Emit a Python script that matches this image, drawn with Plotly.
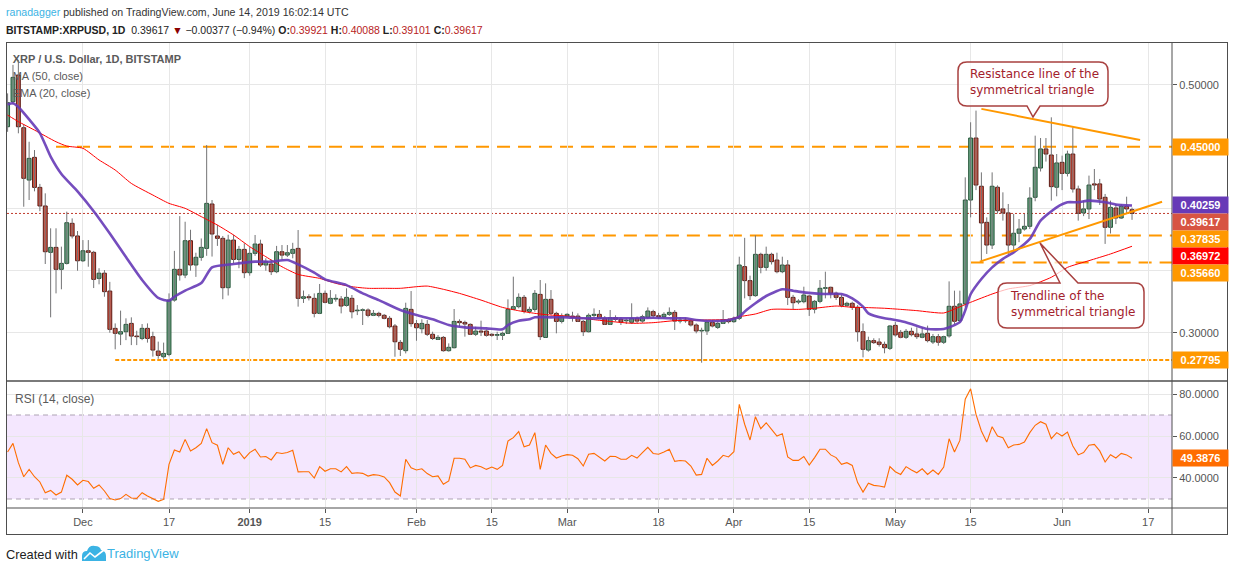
import plotly.graph_objects as go
import pandas as pd

W, H = 1234, 572
SANS = "Liberation Sans, Arial, sans-serif"
CALL = "DejaVu Sans, Verdana, sans-serif"

# ---------------- data ----------------
dates = pd.date_range("2018-11-17", "2019-06-14", freq="D")

opens = [.4661,.4863,.5078,.4653,.4231,.4414,.4172,.4022,.3648,.3688,
         .3511,.3559,.3882,.3780,.3580,.3661,.3648,.3438,.3480,.3336,
         .3035,.2989,.3008,.3075,.2973,.2954,.3035,.2968,.2852,.2806,
         .2825,.3263,.3511,.3465,.3742,.3546,.3608,.3680,.4038,.3780,
         .3761,.3363,.3747,.3591,.3672,.3484,.3640,.3715,.3546,.3554,
         .3492,.3653,.3626,.3640,.3680,.3277,.3290,.3277,.3156,.3317,
         .3237,.3271,.3272,.3220,.3277,.3177,.3180,.3183,.3140,.3156,
         .3140,.3116,.3054,.2922,.2855,.3188,.3073,.3032,.3067,.2987,
         .2946,.2962,.2855,.2879,.3091,.3083,.3067,.2987,.3013,.3013,
         .2987,.2979,.2979,.2995,.3188,.3210,.3285,.3172,.3188,.3309,
         .2962,.3269,.3156,.3091,.3134,.3134,.3134,.3091,.3008,.3140,
         .3148,.3116,.3067,.3121,.3108,.3096,.3084,.3116,.3094,.3124,
         .3170,.3137,.3129,.3148,.3164,.3094,.3102,.3094,.3062,.3014,
         .3014,.3084,.3043,.3075,.3102,.3089,.3116,.3533,.3420,.3299,
         .3632,.3527,.3632,.3586,.3492,.3546,.3285,.3247,.3250,.3296,
         .3189,.3253,.3358,.3366,.3318,.3285,.3221,.3237,.3205,.3008,
         .2860,.2936,.2925,.2906,.2874,.3059,.3003,.2963,.3011,.2990,
         .2963,.2995,.2925,.2968,.2923,.2974,.3213,.3097,.3232,.4070,
         .4570,.4181,.3890,.3707,.4173,.3998,.3966,.3707,.3802,.3836,
         .3858,.4092,.4328,.4482,.4433,.4173,.4374,.4285,.4441,.4159,
         .3966,.3998,.4200,.4200,.4092,.3850,.4006,.3925,.4019,.39921]

highs = [.4930,.5160,.5200,.4680,.4540,.4473,.4200,.4124,.3842,.3842,
         .3694,.3976,.3922,.3820,.3747,.3747,.3660,.3520,.3505,.3410,
         .3075,.3178,.3116,.3124,.3016,.3070,.3075,.3008,.2928,.2920,
         .3317,.3660,.3940,.3895,.3830,.3645,.3760,.4513,.4070,.3870,
         .3780,.3790,.3790,.3700,.3720,.3690,.3788,.3750,.3600,.3590,
         .3700,.3707,.3707,.3725,.3828,.3340,.3310,.3317,.3393,.3340,
         .3344,.3310,.3296,.3358,.3304,.3223,.3196,.3196,.3183,.3169,
         .3151,.3134,.3070,.2941,.3242,.3336,.3102,.3108,.3102,.3008,
         .2981,.2973,.2914,.3191,.3108,.3097,.3075,.3048,.3097,.3027,
         .2995,.3008,.3008,.3269,.3452,.3317,.3304,.3210,.3344,.3425,
         .3398,.3344,.3169,.3156,.3156,.3169,.3156,.3102,.3156,.3196,
         .3183,.3134,.3183,.3140,.3125,.3115,.3237,.3130,.3145,.3204,
         .3185,.3160,.3165,.3204,.3183,.3125,.3120,.3110,.3075,.3040,
         .3102,.3102,.3090,.3183,.3115,.3130,.3613,.3765,.3460,.3785,
         .3645,.3694,.3645,.3645,.3613,.3586,.3305,.3270,.3371,.3305,
         .3264,.3425,.3492,.3371,.3331,.3305,.3250,.3250,.3223,.3075,
         .2968,.2955,.2955,.2928,.3062,.3086,.3022,.3030,.3040,.3043,
         .3043,.3057,.2990,.2990,.2976,.3414,.3339,.3339,.4253,.4697,
         .4791,.4293,.3930,.4293,.4188,.4132,.4038,.3958,.3917,.3958,
         .4173,.4589,.4570,.4570,.4737,.4441,.4428,.4468,.4656,.4186,
         .4065,.4267,.4320,.4240,.4119,.4065,.4038,.4038,.4097,.40088]

lows = [.4620,.4840,.4608,.4016,.4070,.4140,.3980,.3554,.3124,.3317,
        .3350,.3550,.3760,.3500,.3570,.3532,.3360,.3390,.3290,.3000,
        .2866,.2900,.2940,.2900,.2900,.2940,.2920,.2807,.2790,.2790,
        .2810,.3250,.3420,.3440,.3500,.3450,.3580,.3620,.3614,.3700,
        .3270,.3300,.3560,.3520,.3440,.3460,.3620,.3530,.3500,.3465,
        .3480,.3590,.3610,.3600,.3210,.3240,.3260,.3124,.3150,.3237,
        .3230,.3250,.3156,.3210,.3116,.3142,.3062,.3124,.3134,.3124,
        .3108,.3035,.2806,.2812,.2833,.3048,.2935,.2995,.2973,.2941,
        .2941,.2847,.2847,.2874,.3048,.2968,.2981,.2973,.2973,.2968,
        .2968,.2941,.2941,.2990,.3183,.3196,.3156,.3156,.3169,.2941,
        .2962,.3142,.2995,.3075,.3124,.3089,.3086,.2973,.3002,.3124,
        .3108,.3062,.3062,.3090,.3062,.3070,.3070,.3075,.3080,.3110,
        .3120,.3110,.3115,.3135,.3022,.3075,.3080,.3050,.2995,.2758,
        .2982,.3043,.3030,.3070,.3075,.3080,.3102,.3277,.3264,.3290,
        .3479,.3500,.3550,.3479,.3480,.3223,.3189,.3230,.3237,.3135,
        .3156,.3237,.3277,.3277,.3264,.3205,.3210,.3183,.2928,.2801,
        .2847,.2909,.2888,.2834,.2860,.2968,.2955,.2950,.2970,.2950,
        .2955,.2922,.2909,.2895,.2909,.2960,.3070,.3084,.3205,.3930,
        .4150,.3581,.3635,.3675,.3960,.3904,.3635,.3648,.3730,.3823,
        .3836,.4060,.4300,.4380,.4065,.4100,.4150,.4260,.4130,.3904,
        .3940,.3917,.4150,.4030,.3716,.3800,.3876,.3917,.3960,.39101]

closes = [.4855,.5059,.4661,.4245,.4406,.4172,.4022,.3653,.3688,.3511,
          .3559,.3887,.3780,.3580,.3661,.3648,.3430,.3480,.3331,.3027,
          .2995,.3008,.3067,.2973,.2968,.3035,.2954,.2860,.2817,.2833,
          .3263,.3511,.3465,.3742,.3546,.3608,.3688,.4043,.3796,.3761,
          .3363,.3747,.3591,.3672,.3484,.3640,.3715,.3546,.3573,.3492,
          .3653,.3626,.3645,.3672,.3277,.3290,.3282,.3156,.3317,.3245,
          .3277,.3277,.3215,.3285,.3169,.3180,.3183,.3140,.3156,.3140,
          .3116,.3048,.2927,.2866,.3196,.3073,.3040,.3075,.2987,.2954,
          .2962,.2855,.2882,.3091,.3081,.3070,.2987,.3013,.3005,.2979,
          .2979,.2985,.2995,.3188,.3210,.3285,.3172,.3188,.3317,.2968,
          .3269,.3156,.3091,.3134,.3148,.3124,.3091,.3008,.3140,.3148,
          .3116,.3067,.3121,.3108,.3086,.3099,.3116,.3094,.3129,.3175,
          .3137,.3129,.3148,.3164,.3094,.3102,.3096,.3062,.3014,.3016,
          .3084,.3054,.3075,.3102,.3089,.3116,.3546,.3420,.3299,.3632,
          .3527,.3632,.3573,.3492,.3546,.3285,.3242,.3255,.3304,.3189,
          .3253,.3358,.3360,.3318,.3285,.3221,.3237,.3205,.3008,.2866,
          .2936,.2920,.2906,.2879,.3054,.2982,.2963,.3011,.2984,.2968,
          .2990,.2936,.2968,.2923,.2968,.3213,.3092,.3232,.4070,.4570,
          .4191,.3885,.3707,.4181,.3984,.3966,.3707,.3802,.3836,.3858,
          .4086,.4334,.4482,.4441,.4178,.4369,.4285,.4441,.4159,.3963,
          .3998,.4191,.4191,.4078,.3850,.4011,.3925,.4019,.3998,.39617]

rsi14 = [52.4,56.5,47.3,40.6,44.1,40.6,38.1,33.0,34.1,31.9,
         33.3,41.3,39.4,36.7,38.9,38.3,35.1,36.7,33.8,30.2,
         29.5,30.2,32.2,30.5,30.3,33.0,31.4,30.2,28.9,29.8,
         46.5,53.3,52.4,58.4,52.9,54.4,56.5,63.5,56.8,55.6,
         46.5,54.4,51.3,52.5,49.2,52.1,53.7,50.0,50.2,48.6,
         52.1,51.7,52.1,53.2,42.9,43.0,43.0,40.0,45.4,43.2,
         44.4,44.4,42.9,45.4,42.2,42.5,42.2,40.9,41.6,41.3,
         40.5,37.8,33.3,31.4,48.9,44.9,43.8,44.4,42.1,40.6,
         41.0,37.0,38.6,49.4,49.4,48.9,44.8,46.0,45.4,44.1,
         45.2,44.1,46.0,57.6,59.2,62.1,54.9,55.7,61.6,44.1,
         55.7,51.7,49.5,50.5,51.1,50.8,49.2,45.7,51.3,51.7,
         50.0,48.1,50.3,50.2,48.9,48.9,50.8,49.5,52.1,54.6,
         51.7,51.3,52.4,53.7,47.9,48.3,48.1,45.7,41.4,41.7,
         49.4,46.0,48.1,50.8,50.0,52.5,75.1,65.6,58.1,69.2,
         63.5,66.3,63.2,60.0,61.1,50.0,48.4,48.4,50.2,46.2,
         49.7,53.7,53.7,51.0,49.7,46.5,47.3,46.0,37.8,33.3,
         37.5,36.5,36.2,35.7,45.4,43.0,41.7,45.4,43.8,42.5,
         44.4,41.7,43.8,41.7,45.2,58.7,52.4,57.9,77.5,82.5,
         70.3,62.4,57.1,64.4,60.0,59.2,54.4,55.7,56.0,57.1,
         61.6,65.1,66.8,65.6,58.7,61.6,60.0,61.9,55.2,51.0,
         52.1,55.6,56.0,52.9,47.6,51.1,49.5,51.7,51.0,49.3876]

# EMA(20) and MA(50) at these bar numbers (1 = first bar)
ema20_bar = [1,2,3,5,7,9,11,14,17,20,23,26,29,31,32,34,37,39,43,47,
             50,53,55,58,60,64,67,70,74,77,80,83,86,90,93,94,96,98,99,102,
             105,108,111,117,121,124,127,129,132,135,137,138,140,142,145,147,148,151,153,156,
             158,160,161,164,165,167,169,172,175,178,179,180,182,184,186,188,191,193,196,198,
             200,202,205,207,210]
ema20_val = [.484,.485,.482,.472,.461,.442,.428,.414,.398,.380,.361,.3425,.328,.3258,.329,.334,.340,.3527,.3554,.3573,
             .3573,.3586,.3551,.3484,.3430,.3384,.3317,.3263,.3183,.3142,.3108,.3062,.3043,.3035,.3027,.3062,.3097,.3108,.3124,.3124,
             .3124,.3116,.3116,.3116,.3121,.3116,.3116,.3102,.3094,.3102,.3129,.3170,.3237,.3296,.3350,.3339,.3331,.3317,.3312,.3312,
             .3277,.3210,.3156,.3116,.3111,.3094,.3070,.3030,.3030,.3085,.318,.331,.3433,.3527,.3595,.3648,.3756,.3904,.4011,.4052,
             .4052,.4065,.4052,.4033,.40259]
ma50_bar = [1,3,6,10,12,15,18,21,24,28,31,34,37,40,43,46,49,52,55,59,
            62,65,68,71,74,77,79,82,85,89,93,96,99,102,105,108,111,117,121,125,
            130,135,137,140,143,148,151,155,158,161,164,167,170,175,177,180,184,187,191,195,
            198,202,206,210]
ma50_val = [.4755,.4702,.4634,.4540,.4505,.4487,.4393,.4312,.4204,.4110,.4043,.4003,.3936,.3868,.3788,.3694,.3613,.3532,.3470,.3438,
            .3398,.3371,.3358,.3358,.3358,.3371,.3376,.3350,.3317,.3263,.3204,.3177,.3156,.3142,.3134,.3116,.3100,.3076,.3081,.3097,
            .3102,.3108,.3129,.3151,.3188,.3188,.3197,.3215,.3205,.3202,.3197,.3188,.3178,.3159,.3191,.3245,.3312,.3353,.3380,.3447,
            .3527,.3581,.3635,.36972]

# horizontal levels drawn by the author: (price, start date, style)
level_price = [0.45, 0.37835, 0.3566, 0.27795]
level_start = ["2018-11-26", "2019-01-12", "2019-05-15", "2018-12-07"]
level_dotted = [False, False, False, True]

resistance_line = [("2019-05-17", 0.4805), ("2019-06-15 12:00", 0.4554)]
trend_line = [("2019-05-16 17:00", 0.3573), ("2019-06-19 14:00", 0.4056)]

tick_dates = ["2018-12-01","2018-12-17","2019-01-01","2019-01-15","2019-02-01","2019-02-15",
              "2019-03-01","2019-03-18","2019-04-01","2019-04-15","2019-05-01","2019-05-15",
              "2019-06-01","2019-06-17"]
tick_text = ["Dec","17","<b>2019</b>","15","Feb","15","Mar","18","Apr","15","May","15","Jun","17"]

# ---------------- geometry ----------------
PLOT_L, PLOT_R = 7, 1172
MAIN_T, MAIN_B, RSI_B = 42, 381, 508
PX_PER_DAY = 5.38
FIRST_BAR_PX = 7.6
P_MIN, P_MAX = 0.26105, 0.53444
R_MIN, R_MAX = 25.71, 86.19

x_start = (dates[0] - pd.Timedelta(days=(FIRST_BAR_PX - PLOT_L) / PX_PER_DAY)).round("s")
x_end = (dates[0] + pd.Timedelta(days=(PLOT_R - FIRST_BAR_PX) / PX_PER_DAY)).round("s")

def fx(x):
    return x / W

def fy(y):
    return 1 - y / H

def price_px(p):
    return MAIN_T + (P_MAX - p) / (P_MAX - P_MIN) * (MAIN_B - MAIN_T)

def px_price(y):
    return P_MAX - (y - MAIN_T) / (MAIN_B - MAIN_T) * (P_MAX - P_MIN)

def rsi_px(r):
    return MAIN_B + (R_MAX - r) / (R_MAX - R_MIN) * (RSI_B - MAIN_B)

GREEN, GREEN_B = "#6BA583", "#225437"
RED, RED_B = "#D75442", "#5B1A13"
ORANGE = "#FF9800"
PURPLE = "#673AB7"
GRID = "#E7E7E7"
FRAME = "#4E4E4E"
AXT = "#555555"

fig = go.Figure()

# indicator titles (drawn first so candles sit on top, like the original)
title_x = (x_start + pd.Timedelta(days=(12.7 - PLOT_L) / PX_PER_DAY)).round("s")
fig.add_trace(go.Scatter(
    x=[title_x] * 3,
    y=[px_price(60), px_price(77.5), px_price(94.5)],
    mode="text", textposition="middle right",
    text=["<b>XRP / U.S. Dollar, 1D, BITSTAMP</b>", "MA (50, close)", "EMA (20, close)"],
    textfont=dict(family=SANS, size=11, color="#5A5A5A"),
    hoverinfo="skip", cliponaxis=False, xaxis="x", yaxis="y"))

# wicks
wx, wy = [], []
for d, lo, hi in zip(dates, lows, highs):
    wx += [d, d, None]
    wy += [lo, hi, None]
fig.add_trace(go.Scatter(x=wx, y=wy, mode="lines", line=dict(color="#737375", width=1),
                         hoverinfo="skip", xaxis="x", yaxis="y"))

# bodies
BODY_W = 0.72 * 86400000
for up, fill, edge in [(True, GREEN, GREEN_B), (False, RED, RED_B)]:
    idx = [i for i in range(len(dates)) if (closes[i] >= opens[i]) == up]
    fig.add_trace(go.Bar(
        x=[dates[i] for i in idx],
        y=[max(abs(closes[i] - opens[i]), 0.0005) for i in idx],
        base=[min(closes[i], opens[i]) for i in idx],
        width=BODY_W, marker=dict(color=fill, line=dict(color=edge, width=1)),
        hoverinfo="skip", xaxis="x", yaxis="y"))

# moving averages
fig.add_trace(go.Scatter(x=[dates[b - 1] for b in ma50_bar], y=ma50_val, mode="lines",
                         line=dict(color="#FF0000", width=1, shape="spline", smoothing=0.6),
                         hoverinfo="skip", xaxis="x", yaxis="y"))
fig.add_trace(go.Scatter(x=[dates[b - 1] for b in ema20_bar], y=ema20_val, mode="lines",
                         line=dict(color=PURPLE, width=2.6, shape="spline", smoothing=0.6),
                         opacity=0.9, hoverinfo="skip", xaxis="x", yaxis="y"))

# RSI
fig.add_trace(go.Scatter(x=dates, y=rsi14, mode="lines", line=dict(color="#FF6D00", width=1.1),
                         hoverinfo="skip", xaxis="x", yaxis="y2"))

shapes = []
# RSI band
shapes.append(dict(type="rect", xref="x domain", yref="y2", x0=0, x1=1, y0=30, y1=70,
                   fillcolor="#F4E7FE", line=dict(width=0), layer="below"))
for lv in (30, 70):
    shapes.append(dict(type="line", xref="x domain", yref="y2", x0=0, x1=1, y0=lv, y1=lv,
                       line=dict(color="#ADA3B3", width=1, dash="5px,4px"), layer="below"))

# author levels
for p, s, dot in zip(level_price, level_start, level_dotted):
    shapes.append(dict(type="line", xref="x", yref="y", x0=s, x1=x_end, y0=p, y1=p,
                       line=dict(color=ORANGE, width=2, dash="4px,2px" if dot else "13px,8px"),
                       layer="below"))
# last price line
shapes.append(dict(type="line", xref="x domain", yref="y", x0=0, x1=1, y0=closes[-1], y1=closes[-1],
                   line=dict(color="#C0392B", width=1, dash="2px,2px"), layer="below"))
# triangle lines
for ln in (resistance_line, trend_line):
    shapes.append(dict(type="line", xref="x", yref="y", x0=ln[0][0], y0=ln[0][1],
                       x1=ln[1][0], y1=ln[1][1], line=dict(color=ORANGE, width=2), layer="above"))

def P(x, y):
    return f"{fx(x):.5f},{fy(y):.5f}"

def callout(x0, y0, x1, y1, r, bx0, bx1, tip, top):
    if top:
        d = (f"M{P(x0 + r, y0)} L{P(bx0, y0)} L{P(*tip)} L{P(bx1, y0)} L{P(x1 - r, y0)} "
             f"Q{P(x1, y0)} {P(x1, y0 + r)} L{P(x1, y1 - r)} Q{P(x1, y1)} {P(x1 - r, y1)} "
             f"L{P(x0 + r, y1)} Q{P(x0, y1)} {P(x0, y1 - r)} L{P(x0, y0 + r)} Q{P(x0, y0)} {P(x0 + r, y0)} Z")
    else:
        d = (f"M{P(x0 + r, y0)} L{P(x1 - r, y0)} Q{P(x1, y0)} {P(x1, y0 + r)} L{P(x1, y1 - r)} "
             f"Q{P(x1, y1)} {P(x1 - r, y1)} L{P(bx1, y1)} L{P(*tip)} L{P(bx0, y1)} L{P(x0 + r, y1)} "
             f"Q{P(x0, y1)} {P(x0, y1 - r)} L{P(x0, y0 + r)} Q{P(x0, y0)} {P(x0 + r, y0)} Z")
    return dict(type="path", xref="paper", yref="paper", path=d, fillcolor="rgba(255,255,255,0.72)",
                line=dict(color="#A8403F", width=1.5), layer="above")

shapes.append(callout(958, 62, 1108, 106, 9, 1027, 1040, (1033, 117), top=False))
shapes.append(callout(998, 283, 1144, 328, 9, 1060, 1078, (1040, 243), top=True))

# frame
def pline(x0, y0, x1, y1, w=1):
    return dict(type="line", xref="paper", yref="paper", x0=fx(x0), y0=fy(y0), x1=fx(x1), y1=fy(y1),
                line=dict(color=FRAME, width=w), layer="above")

shapes += [pline(6, 42.5, 1228, 42.5), pline(6.5, 42, 6.5, 535), pline(1227.5, 42, 1227.5, 535),
           pline(6, 534.5, 1228, 534.5), pline(6, 381, 1228, 381, 1.5), pline(6, 508, 1228, 508, 1.2),
           pline(1172, 42, 1172, 535)]

# TradingView logo (bottom)
logo = (f"M{P(82, 561)} L{P(82, 556)} Q{P(82, 551)} {P(87, 551)} Q{P(89, 545)} {P(95, 546)} "
        f"Q{P(100, 546)} {P(101, 550)} Q{P(106, 551)} {P(106, 556)} L{P(106, 561)} Z")
shapes.append(dict(type="path", xref="paper", yref="paper", path=logo, fillcolor="#3BB3E4",
                   line=dict(width=0), layer="above"))
shapes.append(dict(type="path", xref="paper", yref="paper",
                   path=f"M{P(84, 559)} L{P(90, 553)} L{P(95, 557)} L{P(104, 550)}",
                   line=dict(color="white", width=1.6), layer="above"))

ann = []
ann.append(dict(x=fx(4), y=fy(12), xref="paper", yref="paper", xanchor="left", yanchor="middle",
                showarrow=False, font=dict(family=SANS, size=10.6, color="#333333"),
                text="<span style='color:#3BB3E4'>ranadagger</span> published on TradingView.com, June 14, 2019 16:02:14 UTC"))
VALC = "#B71C1C"
ann.append(dict(x=fx(4), y=fy(30), xref="paper", yref="paper", xanchor="left", yanchor="middle",
                showarrow=False, font=dict(family=SANS, size=10.5, color="#222222"),
                text=("<b>BITSTAMP:XRPUSD, 1D</b>  0.39617 <span style='color:#8B0000'>▼</span> −0.00377 (−0.94%) "
                      f"<b>O:</b><span style='color:{VALC}'>0.39921</span> "
                      f"<b>H:</b><span style='color:{VALC}'>0.40088</span> "
                      f"<b>L:</b><span style='color:{VALC}'>0.39101</span> "
                      f"<b>C:</b><span style='color:{VALC}'>0.39617</span>")))
ann.append(dict(x=fx(13), y=fy(398.5), xref="paper", yref="paper", xanchor="left", yanchor="middle",
                showarrow=False, font=dict(family=SANS, size=12, color="#5A5A5A"),
                text="RSI (14, close)"))

# callout texts
CT = "#A3212C"
for (x, y, t) in [(968, 82.5, "Resistance line of the<br>symmetrical triangle"),
                  (1008, 304.5, "Trendline of the<br>symmetrical triangle")]:
    ann.append(dict(x=fx(x), y=fy(y), xref="paper", yref="paper", xanchor="left", yanchor="middle",
                    align="left", showarrow=False, font=dict(family=CALL, size=12, color=CT), text=t))

# price-axis labels, stacked like TradingView to avoid overlaps
labels = [(level_price[0], ORANGE), (ema20_val[-1], PURPLE), (closes[-1], RED),
          (level_price[1], ORANGE), (ma50_val[-1], "#FF0000"), (level_price[2], ORANGE),
          (level_price[3], ORANGE)]
labels.sort(key=lambda t: -t[0])
LH = 17
prev = -1e9
for v, c in labels:
    cy = max(price_px(v), prev + LH)
    prev = cy
    ann.append(dict(x=fx(1172), y=fy(cy), xref="paper", yref="paper", xanchor="left", yanchor="middle",
                    showarrow=False, bgcolor=c, width=55, height=16, borderpad=0, align="center",
                    font=dict(family=SANS, size=11, color="white"), text=f"<b>{v:.5f}</b>"))
ann.append(dict(x=fx(1172), y=fy(rsi_px(rsi14[-1])), xref="paper", yref="paper", xanchor="left",
                yanchor="middle", showarrow=False, bgcolor="#FF6D00", width=55, height=16, borderpad=0,
                font=dict(family=SANS, size=11, color="white"), text=f"<b>{rsi14[-1]:.4f}</b>"))

# credits
ann.append(dict(x=fx(4), y=fy(554), xref="paper", yref="paper", xanchor="left", yanchor="middle",
                showarrow=False, font=dict(family=SANS, size=12.8, color="#222222"), text="Created with"))
ann.append(dict(x=fx(105), y=fy(553), xref="paper", yref="paper", xanchor="left", yanchor="middle",
                showarrow=False, font=dict(family=SANS, size=13, color="#3BB3E4"), text="TradingView"))

fig.update_layout(
    width=W, height=H, margin=dict(l=0, r=0, t=0, b=0),
    paper_bgcolor="white", plot_bgcolor="white", showlegend=False, barmode="overlay",
    xaxis=dict(domain=[fx(PLOT_L), fx(PLOT_R)], anchor="y2", type="date",
               range=[x_start, x_end], tickvals=tick_dates, ticktext=tick_text,
               showgrid=True, gridcolor=GRID, gridwidth=1, zeroline=False, showline=False,
               ticks="outside", ticklen=4, tickcolor=AXT,
               tickfont=dict(family=SANS, size=11, color=AXT), automargin=False,
               rangeslider=dict(visible=False)),
    yaxis=dict(domain=[fy(MAIN_B), fy(MAIN_T)], anchor="x", side="right", range=[P_MIN, P_MAX],
               tickvals=[0.30, 0.35, 0.40, 0.50],
               ticktext=["0.30000", "", "", "0.50000"],
               showgrid=True, gridcolor=GRID, zeroline=False, showline=False,
               ticks="outside", ticklen=4, tickcolor=AXT,
               tickfont=dict(family=SANS, size=11, color=AXT), automargin=False),
    yaxis2=dict(domain=[fy(RSI_B), fy(MAIN_B)], anchor="x", side="right", range=[R_MIN, R_MAX],
                tickvals=[40, 60, 80], ticktext=["40.0000", "60.0000", "80.0000"],
                showgrid=True, gridcolor=GRID, zeroline=False, showline=False,
                ticks="outside", ticklen=4, tickcolor=AXT,
                tickfont=dict(family=SANS, size=11, color=AXT), automargin=False),
    shapes=shapes, annotations=ann,
)

fig.write_html("out.html", config={"displayModeBar": False},
               post_script="document.body.style.margin='0';document.body.style.padding='0';")
